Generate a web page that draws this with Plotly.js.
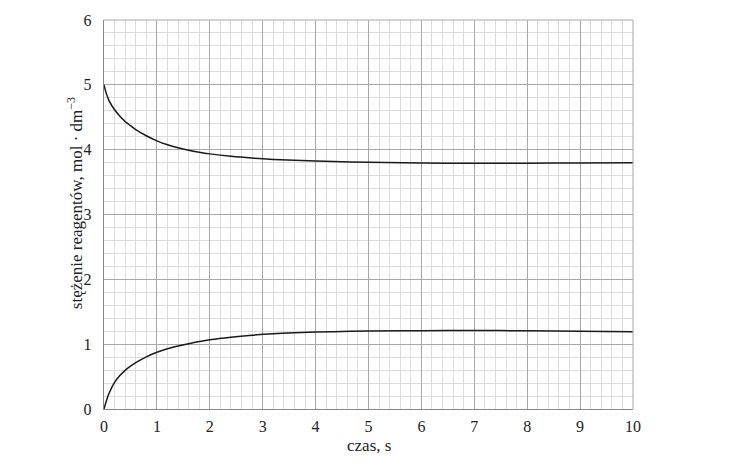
<!DOCTYPE html>
<html>
<head>
<meta charset="utf-8">
<script src="https://cdn.plot.ly/plotly-3.0.1.min.js"></script>
<style>html,body{margin:0;padding:0;background:#fff;}#chart{width:737px;height:464px;}</style>
</head>
<body>
<div id="chart"></div>
<script>
const time  = [0, 0.05, 0.1, 0.2, 0.3, 0.4, 0.5, 0.6, 0.8, 1.0, 1.2, 1.4, 1.6, 1.8, 2.0, 2.4, 2.8, 3.2, 3.6, 4.0, 4.5, 5, 6, 7, 8, 9, 10];
const upper = [5.0, 4.85, 4.75, 4.615, 4.515, 4.435, 4.37, 4.31, 4.215, 4.135, 4.075, 4.028, 3.99, 3.96, 3.935, 3.897, 3.87, 3.85, 3.836, 3.825, 3.814, 3.806, 3.795, 3.79, 3.792, 3.796, 3.80];
const lower = [0, 0.14, 0.25, 0.41, 0.515, 0.595, 0.66, 0.715, 0.805, 0.875, 0.93, 0.972, 1.008, 1.04, 1.068, 1.108, 1.138, 1.16, 1.175, 1.186, 1.195, 1.202, 1.208, 1.21, 1.207, 1.2, 1.19];
const xTicks = [0,1,2,3,4,5,6,7,8,9,10];
const yTicks = [0,1,2,3,4,5,6];
const xTitle = 'czas, s';
const yTitle = 'stężenie reagentów, mol · dm<sup>−3</sup>';

const font = 'Liberation Serif';
const traces = [
  {x: time, y: upper, mode: 'lines', line: {color: '#1a1a1a', width: 1.5, shape: 'spline', smoothing: 1}, hoverinfo: 'skip'},
  {x: time, y: lower, mode: 'lines', line: {color: '#1a1a1a', width: 1.5, shape: 'spline', smoothing: 1}, hoverinfo: 'skip'}
];
const layout = {
  width: 737, height: 464,
  margin: {l: 104, r: 104, t: 20, b: 55},
  paper_bgcolor: '#fff', plot_bgcolor: '#fff',
  showlegend: false,
  font: {family: font, size: 16, color: '#222'},
  xaxis: {
    range: [0, 10], tickvals: xTicks, ticktext: xTicks.map(String),
    showgrid: true, gridcolor: '#a8a8a8', gridwidth: 1,
    minor: {dtick: 0.2, showgrid: true, gridcolor: '#dcdcdc', gridwidth: 1, ticks: ''},
    zeroline: false, showline: true, linecolor: '#8a8a8a', linewidth: 1.2, mirror: false,
    ticks: '', ticklabelstandoff: 3, tickfont: {family: font, size: 16, color: '#222'}, fixedrange: true
  },
  yaxis: {
    range: [0, 6], tickvals: yTicks, ticktext: yTicks.map(String),
    showgrid: true, gridcolor: '#a8a8a8', gridwidth: 1,
    minor: {dtick: 0.2, showgrid: true, gridcolor: '#dcdcdc', gridwidth: 1, ticks: ''},
    zeroline: false, showline: true, linecolor: '#8a8a8a', linewidth: 1.2, mirror: false,
    ticks: '', ticklabelstandoff: 8, tickfont: {family: font, size: 16, color: '#222'}, fixedrange: true
  },
  shapes: [
    {type: 'line', xref: 'paper', yref: 'paper', x0: 0, x1: 1, y0: 1, y1: 1, line: {color: '#a8a8a8', width: 1}},
    {type: 'line', xref: 'paper', yref: 'paper', x0: 1, x1: 1, y0: 0, y1: 1, line: {color: '#a8a8a8', width: 1}}
  ],
  annotations: [
    {text: xTitle, xref: 'paper', yref: 'paper', x: 0.5, y: -0.094, xanchor: 'center', yanchor: 'middle', showarrow: false, font: {family: font, size: 17, color: '#222'}},
    {text: yTitle, xref: 'paper', yref: 'paper', x: -0.056, y: 0.53, xanchor: 'center', yanchor: 'middle', textangle: -90, showarrow: false, font: {family: font, size: 17, color: '#222'}}
  ]
};
Plotly.newPlot('chart', traces, layout, {staticPlot: true, displayModeBar: false});
</script>
</body>
</html>
